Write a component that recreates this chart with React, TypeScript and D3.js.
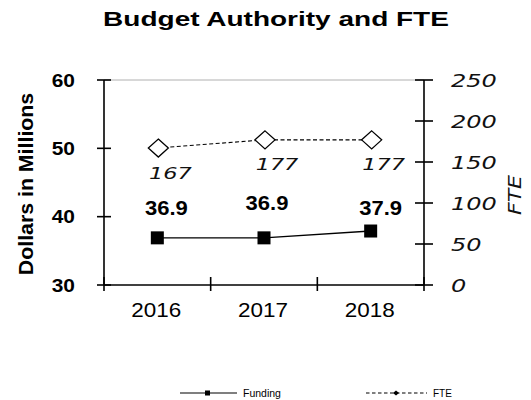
import React, { useRef, useEffect } from 'react';
import * as d3 from 'd3';

const years = ['2016', '2017', '2018'];
const funding = [36.9, 36.9, 37.9];
const fte = [167, 177, 177];
const leftTicks = [30, 40, 50, 60];
const rightTicks = [0, 50, 100, 150, 200, 250];

const App = () => {
  const svgRef = useRef<SVGSVGElement>(null);

  useEffect(() => {
    d3.select(svgRef.current).selectAll('*').remove();

    const width = 531;
    const height = 400;
    const left = 104, right = 424, top = 80, bottom = 285;
    const arial = 'Liberation Sans, Arial, sans-serif';
    const wide = 'DejaVu Sans, sans-serif';

    const svg = d3.select(svgRef.current)
      .attr('width', width)
      .attr('height', height)
      .style('background', '#fff')
      .style('font-family', arial);

    // text helper, sx stretches the glyphs horizontally like the original
    const label = (x: number, y: number, str: string, o: any = {}) => {
      const t = svg.append('text')
        .attr('transform', `translate(${x},${y}) ${o.rotate ? 'rotate(-90)' : ''} scale(${o.sx || 1},1)`)
        .attr('text-anchor', o.anchor || 'start')
        .attr('font-size', o.size || 16)
        .attr('font-family', o.family || arial)
        .attr('fill', o.fill || '#000')
        .text(str);
      if (o.bold) t.attr('font-weight', 'bold');
      if (o.italic) t.attr('font-style', 'italic');
      return t;
    };

    const x = d3.scaleBand().domain(years).range([left, right]);
    const yL = d3.scaleLinear().domain([30, 60]).range([bottom, top]);
    const yR = d3.scaleLinear().domain([0, 250]).range([bottom, top]);
    const cx = (i: number) => (x(years[i]) as number) + x.bandwidth() / 2;

    label(276, 26, 'Budget Authority and FTE', { size: 20, bold: true, anchor: 'middle', sx: 1.4 });

    // frame top line
    svg.append('line')
      .attr('x1', left).attr('x2', right).attr('y1', top).attr('y2', top)
      .attr('stroke', '#b0b0b0').attr('stroke-width', 1);

    const stroke = 1.6;

    // left axis
    svg.append('line')
      .attr('x1', left).attr('x2', left).attr('y1', top).attr('y2', bottom)
      .attr('stroke', '#000').attr('stroke-width', stroke);
    leftTicks.forEach(t => {
      svg.append('line')
        .attr('x1', left - 7).attr('x2', left + 7)
        .attr('y1', yL(t)).attr('y2', yL(t))
        .attr('stroke', '#000').attr('stroke-width', stroke);
      label(75, yL(t) + 6.5, String(t), { size: 19, bold: true, anchor: 'end', sx: 1.1 });
    });
    label(33, 184, 'Dollars in Millions', { size: 20.5, bold: true, anchor: 'middle', rotate: true, sx: 1.04 });

    // right axis
    svg.append('line')
      .attr('x1', right).attr('x2', right).attr('y1', top).attr('y2', bottom)
      .attr('stroke', '#000').attr('stroke-width', stroke);
    rightTicks.forEach(t => {
      svg.append('line')
        .attr('x1', right - 9).attr('x2', right + 9)
        .attr('y1', yR(t)).attr('y2', yR(t))
        .attr('stroke', '#000').attr('stroke-width', stroke);
      label(451, yR(t) + 6.7, String(t), { size: 18.5, italic: true, family: wide, sx: 1.3, fill: '#111' })
        .attr('font-weight', 200);
    });
    label(521, 195, 'FTE', { size: 17, italic: true, family: wide, anchor: 'middle', rotate: true, sx: 1.3, fill: '#111' })
      .attr('font-weight', 200);

    // x axis
    svg.append('line')
      .attr('x1', left).attr('x2', right).attr('y1', bottom).attr('y2', bottom)
      .attr('stroke', '#000').attr('stroke-width', stroke);
    [left, ...years.map(y => (x(y) as number) + x.bandwidth())].forEach(v => {
      svg.append('line')
        .attr('x1', v).attr('x2', v).attr('y1', bottom - 8).attr('y2', bottom + 6)
        .attr('stroke', '#000').attr('stroke-width', stroke);
    });
    years.forEach((yr, i) => {
      label(cx(i) - 1, 316.5, yr, { size: 21, anchor: 'middle', sx: 1.07 });
    });

    // FTE line with open diamonds
    const fteLine = d3.line<number>().x((d, i) => cx(i)).y(d => yR(d));
    svg.append('path')
      .attr('d', fteLine(fte))
      .attr('fill', 'none').attr('stroke', '#000').attr('stroke-width', 1.1)
      .attr('stroke-dasharray', '4,2.5');
    fte.forEach((d, i) => {
      svg.append('path')
        .attr('d', 'M0,-9L10,0L0,9L-10,0Z')
        .attr('transform', `translate(${cx(i) + 1},${yR(d)})`)
        .attr('fill', '#fff').attr('stroke', '#000').attr('stroke-width', 1.3);
      label(cx(i) + 13, yR(d) + 30.5, String(d), { size: 16, italic: true, family: wide, anchor: 'middle', sx: 1.4, fill: '#111' })
        .attr('font-weight', 200);
    });

    // Funding line with filled squares
    const fundLine = d3.line<number>().x((d, i) => cx(i)).y(d => yL(d));
    svg.append('path')
      .attr('d', fundLine(funding))
      .attr('fill', 'none').attr('stroke', '#000').attr('stroke-width', 1.4);
    const fundDx = [9, 3, 10];
    const fundDy = [-23, -28, -16];
    funding.forEach((d, i) => {
      svg.append('rect')
        .attr('x', cx(i) - 6.5).attr('y', yL(d) - 6.5)
        .attr('width', 13).attr('height', 13)
        .attr('fill', '#000');
      label(cx(i) + fundDx[i], yL(d) + fundDy[i], d.toFixed(1), { size: 19.5, bold: true, anchor: 'middle', sx: 1.13 });
    });

    // legend
    const ly = 393;
    svg.append('line').attr('x1', 180).attr('x2', 237).attr('y1', ly).attr('y2', ly)
      .attr('stroke', '#000').attr('stroke-width', 1.2);
    svg.append('rect').attr('x', 205).attr('y', ly - 2.5).attr('width', 5).attr('height', 5).attr('fill', '#000');
    label(243, ly + 3.5, 'Funding', { size: 10, sx: 1.05 });
    svg.append('line').attr('x1', 366).attr('x2', 427).attr('y1', ly).attr('y2', ly)
      .attr('stroke', '#000').attr('stroke-width', 1.2).attr('stroke-dasharray', '3.5,2.5');
    svg.append('path').attr('d', 'M0,-2.5L3,0L0,2.5L-3,0Z')
      .attr('transform', `translate(396,${ly})`).attr('fill', '#000');
    label(433, ly + 3.5, 'FTE', { size: 10 });
  }, []);

  return <svg ref={svgRef} style={{ position: 'absolute', left: 0, top: 0 }}></svg>;
};

export default App;
